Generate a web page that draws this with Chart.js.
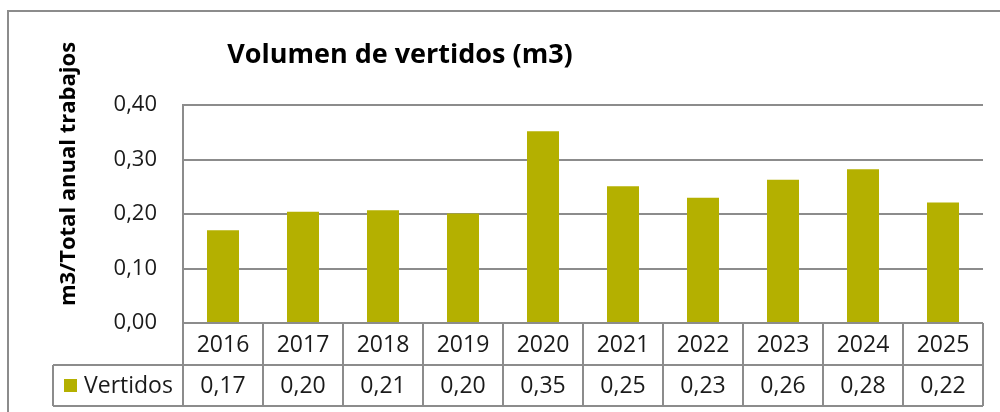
<!DOCTYPE html>
<html>
<head>
<meta charset="utf-8">
<script src="https://cdn.jsdelivr.net/npm/chart.js@4"></script>
<style>
  html, body { margin: 0; padding: 0; background: #fff; }
  #wrap { width: 1000px; height: 412px; position: relative; }
</style>
</head>
<body>
<div id="wrap"><canvas id="c" width="1000" height="412"></canvas></div>
<script>
const categories = ['2016','2017','2018','2019','2020','2021','2022','2023','2024','2025'];
const vertidos = [0.17, 0.204, 0.207, 0.201, 0.352, 0.251, 0.230, 0.263, 0.282, 0.221];
const tableValues = ['0,17','0,20','0,21','0,20','0,35','0,25','0,23','0,26','0,28','0,22'];
const yTicks = [0, 0.1, 0.2, 0.3, 0.4];
const seriesName = 'Vertidos';
const chartTitle = 'Volumen de vertidos (m3)';
const yTitle = 'm3/Total anual trabajos';

const BAR = '#b4b000';
const LINE = '#8c8c8c';
const FONT = '"Open Sans", "Noto Sans", sans-serif';

const decor = {
  id: 'decor',
  afterDraw(chart) {
    const ctx = chart.ctx;
    const a = chart.chartArea;
    const xs = chart.scales.x;
    const n = categories.length;
    const w = (a.right - a.left) / n;
    const row1Top = a.bottom, row1Bot = 365, row2Bot = 406, legLeft = 53;
    ctx.save();
    // outer frame
    ctx.strokeStyle = LINE; ctx.lineWidth = 2;
    ctx.strokeRect(8, 11, 1200, 600);
    // table lines
    ctx.beginPath();
    ctx.moveTo(a.left, row1Top); ctx.lineTo(a.right, row1Top);
    ctx.moveTo(legLeft, row1Bot); ctx.lineTo(a.right, row1Bot);
    ctx.moveTo(legLeft, row2Bot); ctx.lineTo(a.right, row2Bot);
    ctx.moveTo(legLeft, row1Bot); ctx.lineTo(legLeft, row2Bot);
    for (let i = 0; i <= n; i++) {
      const x = a.left + i * w;
      ctx.moveTo(x, row1Top); ctx.lineTo(x, row2Bot);
    }
    ctx.stroke();
    // texts
    ctx.fillStyle = '#1a1a1a';
    ctx.font = '23px ' + FONT;
    ctx.textAlign = 'center'; ctx.textBaseline = 'middle';
    for (let i = 0; i < n; i++) {
      const cx = xs.getPixelForValue(i);
      ctx.fillText(categories[i], cx, (row1Top + row1Bot) / 2 + 1);
      ctx.fillText(tableValues[i], cx, (row1Bot + row2Bot) / 2 + 1);
    }
    // legend key
    ctx.fillStyle = BAR;
    ctx.fillRect(64, 379, 13, 13);
    ctx.fillStyle = '#1a1a1a';
    ctx.textAlign = 'left';
    ctx.fillText(seriesName, 84, (row1Bot + row2Bot) / 2 + 1);
    // chart title
    ctx.font = 'bold 27px ' + FONT;
    ctx.fillStyle = '#000';
    ctx.textAlign = 'center'; ctx.textBaseline = 'alphabetic';
    ctx.fillText(chartTitle, 400, 63);
    // y title
    ctx.translate(69, 174);
    ctx.rotate(-Math.PI / 2);
    ctx.font = 'bold 22px ' + FONT;
    ctx.textBaseline = 'middle';
    ctx.fillText(yTitle, 0, 0);
    ctx.restore();
  }
};

new Chart(document.getElementById('c'), {
  type: 'bar',
  data: {
    labels: categories,
    datasets: [{
      label: seriesName,
      data: vertidos,
      backgroundColor: BAR,
      borderWidth: 0,
      categoryPercentage: 1.0,
      barPercentage: 0.4
    }]
  },
  options: {
    responsive: false,
    animation: false,
    devicePixelRatio: 1,
    layout: { padding: { left: 0, right: 17, top: 105, bottom: 89 } },
    plugins: { legend: { display: false }, title: { display: false }, tooltip: { enabled: false } },
    scales: {
      x: { display: false },
      y: {
        min: 0, max: 0.4,
        afterFit(s) { s.width = 183; },
        afterBuildTicks(s) { s.ticks = yTicks.map(v => ({ value: v })); },
        grid: { color: LINE, lineWidth: 2, drawTicks: false },
        border: { display: true, color: LINE, width: 2 },
        ticks: {
          padding: 26,
          color: '#1a1a1a',
          font: { family: FONT, size: 22 },
          callback: v => v.toFixed(2).replace('.', ',')
        }
      }
    }
  },
  plugins: [decor]
});
</script>
</body>
</html>
